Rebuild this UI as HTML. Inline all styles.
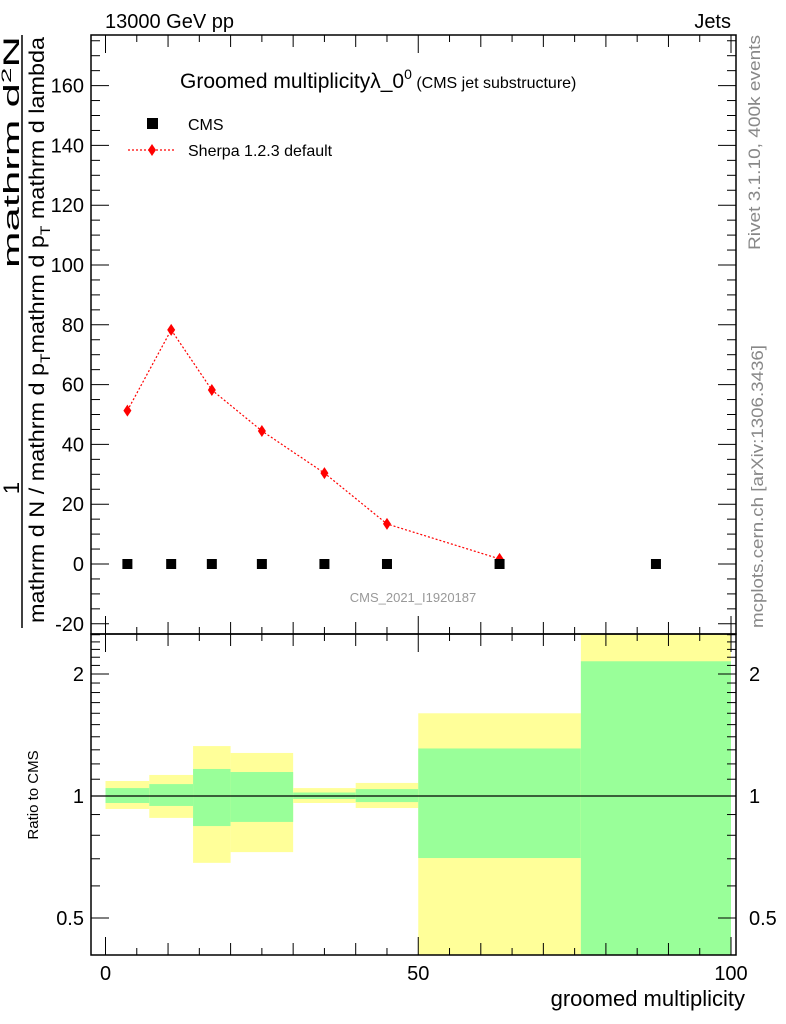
<!DOCTYPE html>
<html><head><meta charset="utf-8">
<style>
html,body{margin:0;padding:0;background:#fff}
svg{display:block;font-family:"Liberation Sans",Arial,sans-serif}
</style></head>
<body>
<svg id="chart" width="786" height="1024" viewBox="0 0 786 1024">
  <text x="105" y="28" font-size="20">13000 GeV pp</text>
  <text x="731" y="28" font-size="20" text-anchor="end">Jets</text>
  <g id="ratio-bands"></g>
  <g id="main-marks"></g>
  <g id="axes"></g>
  <rect x="91" y="35" width="645" height="599" fill="none" stroke="#000" stroke-width="1.5"/>
  <rect x="91" y="634" width="645" height="321" fill="none" stroke="#000" stroke-width="1.5"/>
  <text x="180" y="88" font-size="21">Groomed multiplicityλ_0<tspan font-size="14" dy="-9">0</tspan><tspan font-size="16" dy="9"> (CMS jet substructure)</tspan></text>
  <rect x="147" y="118" width="11" height="11" fill="#000"/>
  <text x="188" y="130" font-size="16">CMS</text>
  <line x1="128" y1="150" x2="176" y2="150" stroke="red" stroke-width="1.2" stroke-dasharray="2,2"/>
  <path d="M152 144 L156 150 L152 156 L148 150 Z" fill="red"/>
  <text x="188" y="156" font-size="16">Sherpa 1.2.3 default</text>
  <text x="413" y="602" font-size="13" fill="#999" text-anchor="middle">CMS_2021_I1920187</text>
  <text transform="translate(760,250) rotate(-90)" font-size="17" fill="#888" textLength="215" lengthAdjust="spacingAndGlyphs">Rivet 3.1.10,  400k events</text>
  <text transform="translate(763,628) rotate(-90)" font-size="17" fill="#888" textLength="283" lengthAdjust="spacingAndGlyphs">mcplots.cern.ch [arXiv:1306.3436]</text>
  <text transform="translate(19,488) rotate(-90)" font-size="22" text-anchor="middle">1</text>
  <text transform="translate(19,268) rotate(-90)" font-size="22" textLength="232" lengthAdjust="spacingAndGlyphs">mathrm d<tspan font-size="14" dy="-8">2</tspan><tspan dy="8">N</tspan></text>
  <line x1="22" y1="35" x2="22" y2="628" stroke="#000" stroke-width="1.5"/>
  <text transform="translate(44,623) rotate(-90)" font-size="21" textLength="586" lengthAdjust="spacingAndGlyphs">mathrm d N / mathrm d p<tspan font-size="14" dy="6">T</tspan><tspan dy="-6">mathrm d p</tspan><tspan font-size="14" dy="6">T</tspan><tspan dy="-6"> mathrm d lambda</tspan></text>
  <text transform="translate(38,795) rotate(-90)" font-size="15" text-anchor="middle">Ratio to CMS</text>
  <text x="745" y="1006" font-size="22" text-anchor="end">groomed multiplicity</text>
</svg>
<script>
const binEdges = [0, 7, 14, 20, 30, 40, 50, 76, 100];
const cmsValues = [0, 0, 0, 0, 0, 0, 0, 0];
const sherpaValues = [51.3, 78.3, 58.2, 44.5, 30.4, 13.4, 1.7];
const yellowHi = [1.089, 1.127, 1.328, 1.277, 1.046, 1.077, 1.60, 2.6];
const yellowLo = [0.929, 0.883, 0.684, 0.727, 0.961, 0.934, 0.40, 0.40];
const greenHi = [1.046, 1.07, 1.166, 1.146, 1.02, 1.04, 1.31, 2.15];
const greenLo = [0.961, 0.945, 0.843, 0.863, 0.983, 0.966, 0.703, 0.40];
const mainYTicks = [-20, 0, 20, 40, 60, 80, 100, 120, 140, 160];
const xTicks = [0, 50, 100];
const ratioTickLabels = [0.5, 1, 2];

const NS = "http://www.w3.org/2000/svg";
const xs = v => 105.5 + 6.255 * v;
const ym = v => 564 - 2.99 * v;
const yr = r => 796 - 122 * Math.log2(r);
const clampR = y => Math.max(634, Math.min(955, y));
function mk(tag, attrs, parent) {
  const e = document.createElementNS(NS, tag);
  for (const k in attrs) e.setAttribute(k, attrs[k]);
  parent.appendChild(e);
  return e;
}
const bands = document.getElementById('ratio-bands');
const marks = document.getElementById('main-marks');
const axes = document.getElementById('axes');

for (let i = 0; i < binEdges.length - 1; i++) {
  const x1 = xs(binEdges[i]), x2 = xs(binEdges[i + 1]);
  let t = clampR(yr(yellowHi[i])), b = clampR(yr(yellowLo[i]));
  const yb = mk('rect', {x: x1, y: t, width: x2 - x1, height: b - t, fill: '#ffff99'}, bands);
  
  
  t = clampR(yr(greenHi[i])); b = clampR(yr(greenLo[i]));
  const gb = mk('rect', {x: x1, y: t, width: x2 - x1, height: b - t, fill: '#99ff99'}, bands);
  
  
}
const one = mk('line', {x1: 91, x2: 736, y1: yr(1), y2: yr(1), stroke: '#000', 'stroke-width': 1.2}, bands);



const centers = [];
for (let i = 0; i < binEdges.length - 1; i++) centers.push((binEdges[i] + binEdges[i + 1]) / 2);
const pts = sherpaValues.map((v, i) => xs(centers[i]) + ',' + ym(v)).join(' ');
const pl = mk('polyline', {points: pts, fill: 'none', stroke: 'red', 'stroke-width': 1.2, 'stroke-dasharray': '2,2'}, marks);


sherpaValues.forEach((v, i) => {
  const cx = xs(centers[i]), cy = ym(v);
  const d = mk('path', {d: `M${cx} ${cy - 6} L${cx + 4} ${cy} L${cx} ${cy + 6} L${cx - 4} ${cy} Z`, fill: 'red'}, marks);
  
  
});
cmsValues.forEach((v, i) => {
  const cx = xs(centers[i]), cy = ym(v);
  const r = mk('rect', {x: cx - 5, y: cy - 5, width: 10, height: 10, fill: '#000'}, marks);
  
  
});

for (let v = -20; v <= 175; v += 5) {
  const y = ym(v); if (y < 35 || y > 634) continue;
  const L = v % 20 === 0 ? 18 : 9;
  mk('line', {x1: 91, x2: 91 + L, y1: y, y2: y, stroke: '#000'}, axes);
  mk('line', {x1: 736, x2: 736 - L, y1: y, y2: y, stroke: '#000'}, axes);
}
mainYTicks.forEach(v => {
  const t = mk('text', {x: 84, y: ym(v) + 7, 'font-size': 20, 'text-anchor': 'end'}, axes);
  t.textContent = v;
  
  
});
for (let v = 0; v <= 100; v += 5) {
  const x = xs(v);
  const L = v % 50 === 0 ? 18 : (v % 10 === 0 ? 12 : 7);
  [35, 634].forEach(y0 => mk('line', {x1: x, x2: x, y1: y0, y2: y0 + L, stroke: '#000'}, axes));
  [634, 955].forEach(y0 => mk('line', {x1: x, x2: x, y1: y0, y2: y0 - L, stroke: '#000'}, axes));
}
xTicks.forEach(v => {
  const t = mk('text', {x: xs(v), y: 980, 'font-size': 20, 'text-anchor': 'middle'}, axes);
  t.textContent = v;
  
  
});
const minorR = [0.4, 0.5, 0.6, 0.7, 0.8, 0.9, 1, 1.1, 1.2, 1.3, 1.4, 1.5, 1.6, 1.7, 1.8, 1.9, 2, 2.1, 2.2, 2.3, 2.4, 2.5];
minorR.forEach(r => {
  const y = yr(r); if (y < 634 || y > 955) return;
  const L = ratioTickLabels.includes(r) ? 18 : 9;
  mk('line', {x1: 91, x2: 91 + L, y1: y, y2: y, stroke: '#000'}, axes);
  mk('line', {x1: 736, x2: 736 - L, y1: y, y2: y, stroke: '#000'}, axes);
});
ratioTickLabels.forEach(r => {
  const t = mk('text', {x: 84, y: yr(r) + 7, 'font-size': 20, 'text-anchor': 'end'}, axes);
  t.textContent = r;
  
  
  const t2 = mk('text', {x: 749, y: yr(r) + 7, 'font-size': 20}, axes);
  t2.textContent = r;
  
  
});
</script>
</body></html>
